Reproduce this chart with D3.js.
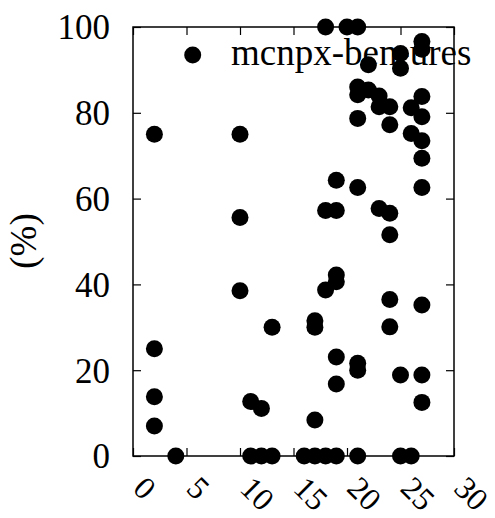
<!DOCTYPE html>
<html>
<head>
<meta charset="utf-8">
<script src="https://cdn.jsdelivr.net/npm/d3@7"></script>
<style>
  html, body { margin: 0; padding: 0; background: #fff; }
  svg { display: block; }
  svg text { font-family: "Liberation Serif", "Times New Roman", Tinos, Times, serif !important; fill: #000; }
</style>
</head>
<body>
<svg id="chart" width="495" height="518"></svg>
<script>
// ---- data ----
const seriesName = "mcnpx-ben-ures";
const xValues = [
  2, 2, 2, 2,
  4,
  10, 10, 10,
  11, 11,
  12, 12,
  13, 13,
  16,
  17, 17, 17, 17,
  18, 18, 18, 18,
  19, 19, 19, 19, 19, 19, 19,
  20,
  21, 21, 21, 21, 21, 21, 21, 21,
  22, 22,
  23, 23, 23,
  24, 24, 24, 24, 24, 24,
  25, 25, 25, 25,
  26, 26, 26,
  27, 27, 27, 27, 27, 27, 27, 27, 27, 27
];
const yValues = [
  75, 25, 13.8, 7,
  0,
  75, 55.6, 38.5,
  12.7, 0,
  11.1, 0,
  30, 0,
  0,
  31.5, 30, 8.4, 0,
  100, 57.2, 38.7, 0,
  64.3, 57.2, 42.2, 40.6, 23.1, 16.8, 0,
  100,
  100, 86, 84.2, 78.7, 62.6, 21.6, 20, 0,
  91.2, 85.3,
  83.9, 81.4, 57.7,
  81.4, 77.2, 56.6, 51.6, 36.5, 30.1,
  93.8, 90.4, 18.9, 0,
  81.2, 75.2, 0,
  96.6, 94.8, 83.8, 79.1, 73.5, 69.4, 62.6, 35.2, 18.9, 12.5
];
const xTicks = [0, 5, 10, 15, 20, 25, 30];
const yTicks = [0, 20, 40, 60, 80, 100];
const yLabel = "(%)";

// ---- layout ----
const svg = d3.select("#chart");
const plotLeft = 133, plotRight = 454, plotTop = 27, plotBottom = 456;
const fontSize = 35;
const serif = "'Liberation Serif', 'Times New Roman', Tinos, Times, serif";

const x = d3.scaleLinear().domain([0, 30]).range([plotLeft, plotRight]);
const y = d3.scaleLinear().domain([0, 100]).range([plotBottom, plotTop]);

// frame
svg.append("rect")
  .attr("x", plotLeft).attr("y", plotTop)
  .attr("width", plotRight - plotLeft).attr("height", plotBottom - plotTop)
  .attr("fill", "none").attr("stroke", "#000").attr("stroke-width", 1.5);

function styleAxis(g) {
  g.attr("font-family", serif);
  g.select(".domain").remove();
  g.selectAll(".tick line").attr("stroke", "#000").attr("stroke-width", 1.2);
}

// bottom axis
const gx = svg.append("g").attr("transform", `translate(0,${plotBottom})`)
  .call(d3.axisBottom(x).tickValues(xTicks).tickSize(-8).tickFormat(d3.format("d")))
  .call(styleAxis);
gx.selectAll(".tick text")
  .attr("font-size", 32)
  .attr("text-anchor", "start")
  .attr("x", 0).attr("y", 0).attr("dy", 0)
  .attr("transform", "translate(-2,34) rotate(45)");

// top axis (ticks only)
svg.append("g").attr("transform", `translate(0,${plotTop})`)
  .call(d3.axisTop(x).tickValues(xTicks).tickSize(-8).tickFormat(""))
  .call(styleAxis);

// left axis
const gy = svg.append("g").attr("transform", `translate(${plotLeft},0)`)
  .call(d3.axisLeft(y).tickValues(yTicks).tickSize(-8).tickPadding(23))
  .call(styleAxis);
gy.selectAll(".tick text")
  .attr("font-size", fontSize)
  .attr("dy", "0.34em");

// right axis (ticks only)
svg.append("g").attr("transform", `translate(${plotRight},0)`)
  .call(d3.axisRight(y).tickValues(yTicks).tickSize(-8).tickFormat(""))
  .call(styleAxis);

// y label
svg.append("text")
  .attr("transform", "translate(36,241) rotate(-90)")
  .attr("text-anchor", "middle")
  .attr("font-family", serif)
  .attr("font-size", 37)
  .text(yLabel);

// legend
svg.append("text")
  .attr("x", 231).attr("y", 65)
  .attr("font-family", serif)
  .attr("font-size", 37)
  .text(seriesName);
svg.append("circle")
  .attr("cx", 192.7).attr("cy", 55).attr("r", 8.5)
  .attr("fill", "#000");

// points
const pts = xValues.map((v, i) => ({ x: v, y: yValues[i] }));
svg.append("g").selectAll("circle")
  .data(pts)
  .join("circle")
  .attr("cx", d => x(d.x))
  .attr("cy", d => y(d.y))
  .attr("r", 8.5)
  .attr("fill", "#000");
</script>
</body>
</html>
